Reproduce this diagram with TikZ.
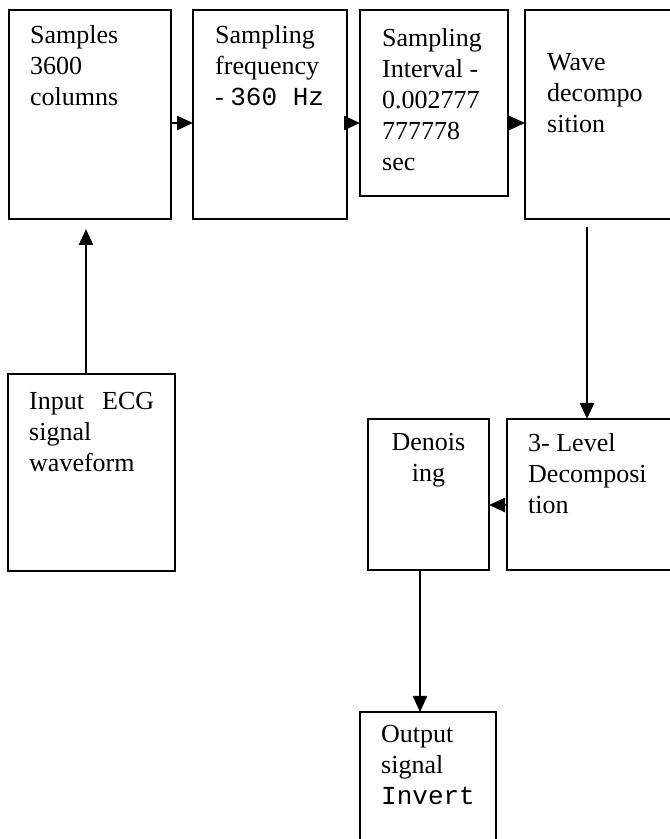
\documentclass[tikz,border=0pt]{standalone}
\usepackage{fontspec}
\setmainfont{Liberation Serif}
\setmonofont{Liberation Mono}
\usepackage{tikz}
\usetikzlibrary{arrows.meta, positioning}

\begin{document}
\begin{tikzpicture}[x=1pt, y=1pt, >={Triangle[length=16pt, width=14pt]}, block/.style={rectangle, draw, line width=2pt, inner sep=0pt, outer sep=0pt, anchor=north west}, txt/.style={inner sep=0pt, align=left, anchor=north west, font=\fontsize{26}{31}\selectfont, execute at begin node=\strut}, flow/.style={->, line width=2.5pt}]

            \useasboundingbox (0,0) rectangle (670,839);
            \clip (0,0) rectangle (670,839);

            \node[block, minimum width=162pt, minimum height=209pt] (S1) at (9,829) {};
            \node[block, minimum width=154pt, minimum height=209pt] (S2) at (193,829) {};
            \node[block, minimum width=148pt, minimum height=186pt] (S3) at (360,829) {};
            \node[block, minimum width=170pt, minimum height=209pt] (S4) at (525,829) {};
            \node[block, minimum width=167pt, minimum height=197pt] (Inp) at (8,465) {};
            \node[block, minimum width=121pt, minimum height=151pt] (Den) at (368,420) {};
            \node[block, minimum width=170pt, minimum height=151pt] (Dec) at (507,420) {};
            \node[block, minimum width=136pt, minimum height=170pt] (Out) at (360,127) {};

            \node[txt] (S1t) at ([shift={(21,-15)}]S1.north west) {Samples\\3600\\columns};
            \node[txt] (S2t) at ([shift={(22,-15)}]S2.north west) {Sampling\\frequency\\-~\texttt{360 Hz}};
            \node[txt] (S3t) at ([shift={(22,-18)}]S3.north west) {Sampling\\Interval -\\0.002777\\777778\\sec};
            \node[txt] (S4t) at ([shift={(22,-43)}]S4.north west) {Wave\\decompo\\sition};
            \node[txt, text width=125pt] (Inpt) at ([shift={(21,-14)}]Inp.north west) {Input\hfill ECG\\signal\\waveform};
            \node[txt, align=center, anchor=north] (Dent) at ([yshift=-14pt]Den.north) {Denois\\ing};
            \node[txt] (Dect) at ([shift={(21,-14)}]Dec.north west) {3- Level\\Decomposi\\tion};
            \node[txt] (Outt) at ([shift={(21,-13)}]Out.north west) {Output\\signal\\\texttt{Invert}};

            \coordinate (row) at (0,716);

            \draw[flow] (S1.east |- row) -- (S2.west |- row);
            \draw[flow] (S2.east |- row) -- (S3.west |- row);
            \draw[flow] (S3.east |- row) -- (S4.west |- row);
            \draw[flow, shorten >=10pt] ([xshift=-5.5pt]Inp.north) -- ([xshift=-5.5pt]Inp.north |- S1.south);
            \draw[flow, shorten <=8pt] ([xshift=-5pt]Dec.north |- S4.south) -- ([xshift=-5pt]Dec.north);
            \draw[flow] ([yshift=-10.5pt]Dec.west) -- ([yshift=-10.5pt]Den.east);
            \draw[flow] ([xshift=-8.5pt]Den.south) -- ([xshift=-8.5pt]Den.south |- Out.north);

        \end{tikzpicture}
\end{document}
